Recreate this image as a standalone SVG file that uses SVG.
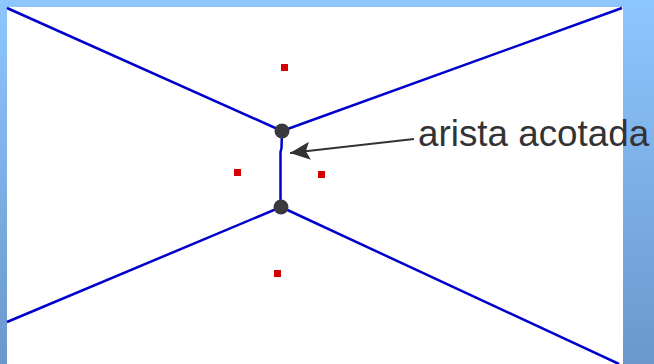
<svg xmlns="http://www.w3.org/2000/svg" width="654" height="364" viewBox="0 0 654 364">
  <defs>
    <linearGradient id="bg" x1="0" y1="0" x2="0" y2="1">
      <stop offset="0" stop-color="#8ec6fe"/>
      <stop offset="1" stop-color="#6a98cc"/>
    </linearGradient>
    <marker id="ah" viewBox="0 0 20 18" refX="20" refY="9" markerWidth="20" markerHeight="18" markerUnits="userSpaceOnUse" orient="auto">
      <path d="M20,9 L0,0 L4,9 L0,18 Z" fill="#333336"/>
    </marker>
    <style>
      .edge { fill: none; stroke: #0000cc; stroke-width: 2.5; stroke-linejoin: round; }
      .vertex { fill: #3a3a3e; }
      .site { fill: #d40000; }
      .lbl { font-family: "Liberation Sans", Arial, sans-serif; font-size: 36.8px; fill: #333336; }
      .arrow { fill: none; stroke: #333336; stroke-width: 2; }
    </style>
  </defs>
  <rect x="0" y="0" width="654" height="364" fill="url(#bg)"/>
  <rect x="7" y="7" width="616" height="357" fill="#ffffff"/>

  <g id="connectors">
    <line class="edge" x1="7" y1="8" x2="282" y2="131"/>
    <line class="edge" x1="282" y1="131" x2="622" y2="8"/>
    <polyline class="edge" points="282,131 281.5,148 280.5,152 280.5,207"/>
    <line class="edge" x1="281" y1="207" x2="7" y2="322"/>
    <line class="edge" x1="281" y1="207" x2="619" y2="364"/>
    <line class="arrow" x1="414" y1="139" x2="290" y2="153" marker-end="url(#ah)"/>
  </g>

  <g id="vertex-top"><circle class="vertex" cx="282" cy="131" r="7.5"/></g>
  <g id="vertex-bottom"><circle class="vertex" cx="281" cy="207" r="7.5"/></g>

  <g id="site-1"><rect class="site" x="281" y="64" width="7" height="7"/></g>
  <g id="site-2"><rect class="site" x="234" y="169" width="7" height="7"/></g>
  <g id="site-3"><rect class="site" x="318" y="171" width="7" height="7"/></g>
  <g id="site-4"><rect class="site" x="274" y="270" width="7" height="7"/></g>

  <g id="label"><text class="lbl" x="418" y="146">arista acotada</text></g>
</svg>
